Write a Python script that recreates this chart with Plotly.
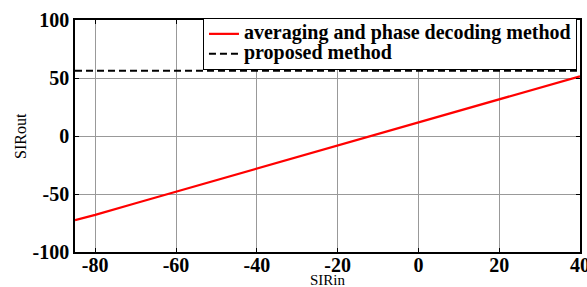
import plotly.graph_objects as go

sir_in = [-85, -80, -70, -60, -50, -40, -30, -25, -20, -10, 0, 10, 15, 20, 30, 40]
sir_out_avg = [-72.5, -68, -58, -48, -38, -28, -18, -13, -8.5, 1.5, 12, 22, 27, 31.5, 41.5, 51.5]
sir_out_prop = [56.3] * len(sir_in)

x_ticks = [-80, -60, -40, -20, 0, 20, 40]
y_ticks = [-100, -50, 0, 50, 100]

series_names = ["averaging and phase decoding method", "proposed method"]

font_fam = "Liberation Serif, Times New Roman, serif"

def legend_label(s):
    return '<span style="font-size:20px"><b>' + s + '</b></span>'

fig = go.Figure()
fig.add_trace(go.Scatter(x=sir_in, y=sir_out_avg, mode="lines",
                         line=dict(color="#ff0000", width=2.2),
                         name=legend_label(series_names[0])))
fig.add_trace(go.Scatter(x=sir_in, y=sir_out_prop, mode="lines",
                         line=dict(color="black", width=2, dash="7px,4px"),
                         name=legend_label(series_names[1])))

axis_common = dict(showline=True, linecolor="black", linewidth=1.5, mirror="ticks",
                   ticks="inside", ticklen=4, tickcolor="black",
                   showgrid=True, gridcolor="#999999", gridwidth=1, zeroline=False,
                   ticklabeloverflow="allow",
                   tickfont=dict(family=font_fam, size=20, color="black", weight="bold"))

fig.update_xaxes(range=[-85, 40], tickvals=x_ticks, ticktext=[str(v) for v in x_ticks],
                 ticklabelstandoff=-6, **axis_common)
fig.update_yaxes(range=[-100, 100], tickvals=y_ticks, ticktext=[str(v) for v in y_ticks],
                 ticklabelstandoff=0, **axis_common)

fig.add_annotation(text="SIRin", xref="paper", yref="paper", x=0.5, y=-0.122,
                   xanchor="center", yanchor="middle", showarrow=False,
                   font=dict(family=font_fam, size=15, color="black"))
fig.add_annotation(text="SIRout", xref="paper", yref="paper", x=-0.109, y=0.5,
                   xanchor="center", yanchor="middle", showarrow=False, textangle=-90,
                   font=dict(family=font_fam, size=16, color="black"))

fig.update_layout(
    width=587, height=287,
    margin=dict(l=75, r=7, t=20, b=35, autoexpand=False),
    plot_bgcolor="white", paper_bgcolor="white",
    font=dict(family=font_fam, color="black"),
    legend=dict(x=0.994, y=1.009, xanchor="right", yanchor="top",
                bgcolor="white", bordercolor="black", borderwidth=1,
                font=dict(family=font_fam, size=13, color="black"),
                tracegroupgap=0, itemwidth=30),
    showlegend=True,
)

fig.write_html("out.html", config={"displayModeBar": False},
               post_script="document.body.style.margin='0';document.body.style.overflow='hidden';")
